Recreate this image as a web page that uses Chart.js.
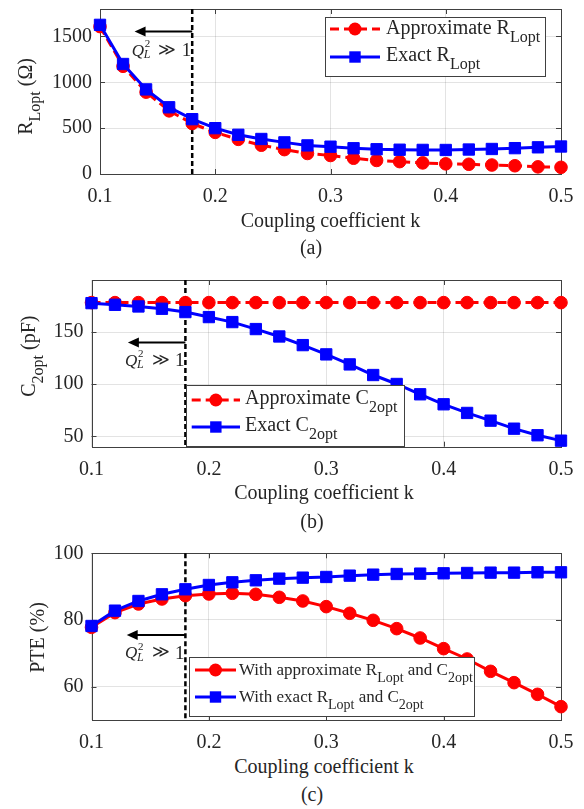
<!DOCTYPE html>
<html><head><meta charset="utf-8">
<script src="https://cdn.jsdelivr.net/npm/chart.js@4/dist/chart.umd.min.js"></script>
<style>
html,body{margin:0;padding:0;background:#fff}
body{width:584px;height:809px;position:relative;overflow:hidden;font-family:"Liberation Serif","Times New Roman","DejaVu Serif",serif;color:#262626}
canvas.cv{position:absolute;left:0}
.t{position:absolute;white-space:nowrap}
.sb{position:relative;top:8px;font-size:16px}
.sc{position:relative;top:7px;font-size:14px}
.leg{position:absolute;background:#fff;border:1px solid #404040;box-sizing:border-box}
svg.smp{position:absolute;overflow:visible}
</style>
</head><body>
<canvas id="ca" class="cv" width="584" height="215" style="top:0px"></canvas>
<canvas id="cb" class="cv" width="584" height="215" style="top:270px"></canvas>
<canvas id="cc" class="cv" width="584" height="215" style="top:540px"></canvas>
<script>
// ---------------- data ----------------
const kValues = [0.10,0.12,0.14,0.16,0.18,0.20,0.22,0.24,0.26,0.28,0.30,0.32,0.34,0.36,0.38,0.40,0.42,0.44,0.46,0.48,0.50];
const rLoptApprox = [1608,1175,893,689,551,454,378,314,266,224,202,172,148,135,121,111,106,98,90,78,73];
const rLoptExact  = [1627,1200,923,728,598,500,428,382,345,312,298,281,270,265,263,262,267,273,282,291,300];
const c2optApprox = [178.3,178.3,178.3,178.3,178.3,178.3,178.3,178.3,178.3,178.3,178.3,178.3,178.3,178.3,178.3,178.3,178.3,178.3,178.3,178.3,178.3];
const c2optExact  = [177.8,176.2,174.6,172.4,169.2,164.4,159.6,152.9,145.8,137.5,128.6,119.0,108.8,100.2,90.3,80.7,72.4,65.0,57.3,51.0,45.8];
const pteApprox   = [77.8,82.2,84.8,86.3,87.3,87.8,88.0,87.7,86.8,85.7,84.0,82.0,79.9,77.4,74.6,71.4,68.3,64.6,61.2,57.7,54.0];
const pteExact    = [78.2,82.8,85.7,87.7,89.2,90.5,91.3,91.9,92.4,92.7,92.9,93.3,93.6,93.8,93.9,94.0,94.1,94.2,94.2,94.3,94.3];
const xTicks  = [0.1,0.2,0.3,0.4,0.5];
const yTicksA = [0,500,1000,1500];
const yTicksB = [50,100,150];
const yTicksC = [60,80,100];
const kThreshold = 0.18;          // dashed vertical line
const arrowTipK  = [0.13,0.131,0.13];
const arrowLevel = [1555,140,75.5];

// ---------------- chart setup ----------------
Chart.defaults.font.family = '"Liberation Serif","Times New Roman",serif';
Chart.defaults.color = '#262626';
const YW = 80, XH = 30, H = 215, W = 584;
const GRID = 'rgba(38,38,38,0.13)';

const deco = {
  id: 'deco',
  beforeDatasetsDraw(chart, args, o) {
    const {ctx, chartArea: a, scales: {x, y}} = chart;
    ctx.save();
    ctx.strokeStyle = '#404040'; ctx.lineWidth = 1;
    ctx.beginPath();
    xTicks.forEach(v => {
      const px = Math.round(x.getPixelForValue(v)) + 0.5;
      ctx.moveTo(px, a.bottom); ctx.lineTo(px, a.bottom - 5);
      ctx.moveTo(px, a.top); ctx.lineTo(px, a.top + 5);
    });
    o.yticks.forEach(v => {
      const py = Math.round(y.getPixelForValue(v)) + 0.5;
      ctx.moveTo(a.left, py); ctx.lineTo(a.left + 5, py);
      ctx.moveTo(a.right, py); ctx.lineTo(a.right - 5, py);
    });
    ctx.stroke();
    ctx.strokeRect(Math.round(a.left) + 0.5, Math.round(a.top) + 0.5,
      Math.round(a.right) - Math.round(a.left), Math.round(a.bottom) - Math.round(a.top));
    const vx = x.getPixelForValue(o.vline);
    ctx.strokeStyle = '#000'; ctx.lineWidth = 2.5; ctx.setLineDash([5, 3]);
    ctx.beginPath(); ctx.moveTo(vx, a.top); ctx.lineTo(vx, a.bottom); ctx.stroke();
    ctx.setLineDash([]);
    const ay = y.getPixelForValue(o.arrowY);
    const tx = x.getPixelForValue(o.arrowTip);
    ctx.lineWidth = 2;
    ctx.beginPath(); ctx.moveTo(vx, ay); ctx.lineTo(tx + 8, ay); ctx.stroke();
    ctx.fillStyle = '#000';
    ctx.beginPath(); ctx.moveTo(tx, ay); ctx.lineTo(tx + 11, ay - 5); ctx.lineTo(tx + 11, ay + 5); ctx.closePath(); ctx.fill();
    ctx.restore();
  }
};

function pts(arr) { return kValues.map((k, i) => ({x: k, y: arr[i]})); }

function makeChart(id, c) {
  return new Chart(document.getElementById(id), {
    type: 'line',
    data: { datasets: [
      { data: pts(c.red), borderColor: '#ff0000', backgroundColor: '#ff0000', borderWidth: 3,
        borderDash: c.redDash ? [9, 5] : [], pointStyle: 'circle', pointRadius: 6.3, pointBorderWidth: 1,
        order: 1, clip: false, tension: 0 },
      { data: pts(c.blue), borderColor: '#0000ff', backgroundColor: '#0000ff', borderWidth: 3,
        pointStyle: 'rect', pointRadius: 8, pointBorderWidth: 1, order: 0, clip: false, tension: 0 }
    ]},
    options: {
      responsive: false, animation: false, devicePixelRatio: 1,
      layout: { padding: { left: c.L - YW, right: W - c.R, top: c.T, bottom: H - c.B - XH } },
      events: [],
      plugins: { legend: { display: false }, tooltip: { enabled: false },
        deco: { vline: kThreshold, arrowTip: c.tip, arrowY: c.arrowY, yticks: c.yticks } },
      scales: {
        x: { type: 'linear', min: 0.1, max: 0.5,
          afterBuildTicks: s => { s.ticks = xTicks.map(v => ({value: v})); },
          afterFit: s => { s.height = XH; s.paddingLeft = 0; s.paddingRight = 0; s.paddingTop = 0; s.paddingBottom = 0; },
          grid: { color: GRID, drawTicks: false, lineWidth: 1 }, border: { display: false },
          ticks: { font: { size: 20 }, color: '#262626', padding: 11, maxRotation: 0, callback: v => Number(v).toFixed(1) } },
        y: { type: 'linear', min: c.ymin, max: c.ymax,
          afterBuildTicks: s => { s.ticks = c.yticks.map(v => ({value: v})); },
          afterFit: s => { s.width = YW; s.paddingTop = 0; s.paddingBottom = 0; s.paddingLeft = 0; s.paddingRight = 0; },
          grid: { color: GRID, drawTicks: false, lineWidth: 1 }, border: { display: false },
          ticks: { font: { size: 20 }, color: '#262626', padding: 8, callback: v => String(v) } }
      }
    },
    plugins: [deco]
  });
}

makeChart('ca', { red: rLoptApprox, blue: rLoptExact, redDash: true, L: 100, R: 561, T: 7, B: 174,
  ymin: 0, ymax: 1800, yticks: yTicksA, tip: arrowTipK[0], arrowY: arrowLevel[0] });
makeChart('cb', { red: c2optApprox, blue: c2optExact, redDash: true, L: 91.5, R: 561, T: 10, B: 176.7,
  ymin: 40, ymax: 200, yticks: yTicksB, tip: arrowTipK[1], arrowY: arrowLevel[1] });
makeChart('cc', { red: pteApprox, blue: pteExact, redDash: false, L: 91.5, R: 561, T: 13.3, B: 180,
  ymin: 50, ymax: 100, yticks: yTicksC, tip: arrowTipK[2], arrowY: arrowLevel[2] });

// ---------------- text (HTML) ----------------
function txt(x, base, html, size, extra) {
  const d = document.createElement('div');
  d.className = 't';
  d.style.fontSize = size + 'px';
  d.style.lineHeight = size + 'px';
  d.style.left = x + 'px';
  d.style.top = (base - 0.8375 * size) + 'px';
  d.innerHTML = html;
  if (extra) extra(d, size);
  document.body.appendChild(d);
  return d;
}
function centered(cx, base, html, size) {
  return txt(cx - 200, base, html, size, d => { d.style.width = '400px'; d.style.textAlign = 'center'; });
}
const SB = s => '<span class="sb">' + s + '</span>';
const SC = s => '<span class="sc">' + s + '</span>';

// y titles: rotated about their left baseline point (bx, by), reading upward
function rot(bx, by, html) {
  const d = document.createElement('div');
  d.className = 't';
  d.style.fontSize = '20px'; d.style.lineHeight = '20px';
  d.style.left = bx + 'px';
  d.style.top = (by - 16.75) + 'px';
  d.style.transformOrigin = '0px 16.75px';
  d.style.transform = 'rotate(-90deg)';
  d.innerHTML = html;
  document.body.appendChild(d);
}
rot(32, 135, 'R' + SB('Lopt') + ' (Ω)');
rot(35, 397, 'C' + SB('2opt') + ' (pF)');
rot(44, 673, 'PTE (%)');

// x titles and captions
centered(330.5, 227, 'Coupling coefficient k', 20);
centered(324, 499, 'Coupling coefficient k', 20);
centered(324, 773, 'Coupling coefficient k', 20);
centered(311, 254, '(a)', 20);
centered(312, 528, '(b)', 20);
centered(312, 801, '(c)', 20);

// Q_L^2 >> 1 annotations
function qnote(x, base) {
  txt(x, base, '<i>Q</i>', 17);
  txt(x + 13, base - 8.5, '2', 11);
  txt(x + 12, base + 2.5, '<i>L</i>', 12);
  const g = txt(x + 26.5, base - 1, '≫', 17);
  g.style.fontFamily = '"DejaVu Serif","Liberation Serif",serif';
  txt(x + 50, base, '1', 19);
}
qnote(131.7, 56);
qnote(125, 366);
qnote(125, 658.5);

// legends
function legBox(l, t, r, b) {
  const d = document.createElement('div');
  d.className = 'leg';
  d.style.left = l + 'px'; d.style.top = t + 'px';
  d.style.width = (r - l) + 'px'; d.style.height = (b - t) + 'px';
  document.body.appendChild(d);
}
function sample(x0, x1, y, color, dashed, shape) {
  const ns = 'http://www.w3.org/2000/svg';
  const s = document.createElementNS(ns, 'svg');
  s.setAttribute('class', 'smp');
  s.setAttribute('width', W); s.setAttribute('height', 20);
  s.style.left = '0px'; s.style.top = (y - 10) + 'px';
  const ln = document.createElementNS(ns, 'line');
  ln.setAttribute('x1', x0); ln.setAttribute('x2', x1); ln.setAttribute('y1', 10); ln.setAttribute('y2', 10);
  ln.setAttribute('stroke', color); ln.setAttribute('stroke-width', 3);
  if (dashed) ln.setAttribute('stroke-dasharray', '9 5');
  s.appendChild(ln);
  const cx = (x0 + x1) / 2;
  let m;
  if (shape === 'circle') {
    m = document.createElementNS(ns, 'circle');
    m.setAttribute('cx', cx); m.setAttribute('cy', 10); m.setAttribute('r', 6.5);
  } else {
    m = document.createElementNS(ns, 'rect');
    m.setAttribute('x', cx - 5.7); m.setAttribute('y', 4.3); m.setAttribute('width', 11.4); m.setAttribute('height', 11.4);
  }
  m.setAttribute('fill', color);
  s.appendChild(m);
  document.body.appendChild(s);
}
// (a)
legBox(325, 17, 546, 77);
sample(330, 380, 29, '#ff0000', true, 'circle');
sample(330, 380, 57, '#0000ff', false, 'rect');
txt(386, 33.3, 'Approximate R' + SB('Lopt'), 20);
txt(386, 61, 'Exact R' + SB('Lopt'), 20);
// (b)
legBox(186, 385, 405, 447);
sample(191.7, 240, 400, '#ff0000', true, 'circle');
sample(191.7, 240, 427.3, '#0000ff', false, 'rect');
txt(245, 403.5, 'Approximate C' + SB('2opt'), 20);
txt(245, 430.5, 'Exact C' + SB('2opt'), 20);
// (c)
legBox(189.3, 657.3, 475, 716.7);
sample(195, 236, 670, '#ff0000', false, 'circle');
sample(195, 236, 697.3, '#0000ff', false, 'rect');
txt(239, 675, 'With approximate R' + SC('Lopt') + ' and C' + SC('2opt'), 17);
txt(239, 702.7, 'With exact R' + SC('Lopt') + ' and C' + SC('2opt'), 17);
</script>
</body></html>
